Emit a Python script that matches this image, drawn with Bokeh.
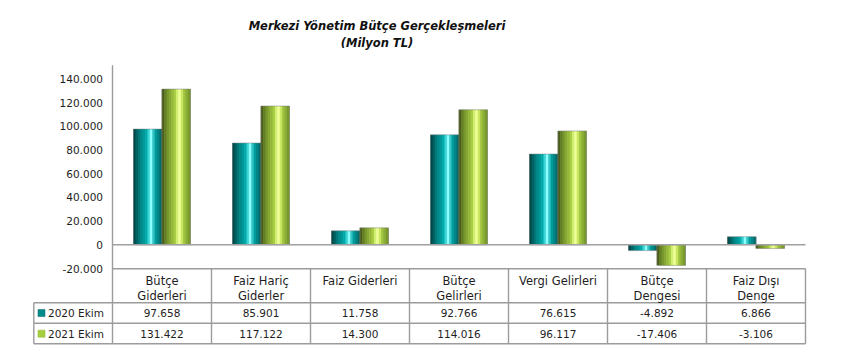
import numpy as np
from bokeh.plotting import figure
from bokeh.models import Range1d
from bokeh.core.properties import value
from bokeh.embed import file_html
from bokeh.resources import INLINE

# ---------------- data ----------------
title_lines = ["Merkezi Yönetim Bütçe Gerçekleşmeleri", "(Milyon TL)"]
categories = ["Bütçe\nGiderleri", "Faiz Hariç\nGiderler", "Faiz Giderleri",
              "Bütçe\nGelirleri", "Vergi Gelirleri", "Bütçe\nDengesi", "Faiz Dışı\nDenge"]
series_names = ["2020  Ekim", "2021  Ekim"]
v2020 = [97658, 85901, 11758, 92766, 76615, -4892, 6866]
v2021 = [131422, 117122, 14300, 114016, 96117, -17406, -3106]
y_ticks = [-20000, 0, 20000, 40000, 60000, 80000, 100000, 120000, 140000]
y_tick_labels = ["-20.000", "0", "20.000", "40.000", "60.000", "80.000",
                 "100.000", "120.000", "140.000"]
y_axis_top = 151500

# ---------------- style ----------------
FONT = value("DejaVu Sans")
TXT = "#1e1e1e"
GRID = "#9c9c9c"
teal_profile = ["#004a4a", "#006262", "#007878", "#008a8a", "#009999", "#00aaaa",
                "#3cd4d4", "#8cffff", "#34c6c6", "#009c9c", "#008686", "#006c6c"]
green_profile = ["#4a5e1a", "#647e26", "#78962e", "#88a834", "#96b83a", "#a8cc44",
                 "#d0ee70", "#f0ff9a", "#c8e660", "#a0c440", "#8cae36", "#789a2e"]
TEAL = "#008b8b"
GREEN = "#a6cf3e"

# pixel geometry (layout only)
PX_ZERO = 244.3
PX_PER = 23.7 / 20000.0
H = 353
W_TOTAL = 843
X0_PX = 112.0
UNIT = 99.0
def py(px):
    return (PX_ZERO - px) / PX_PER
def px_x(px):
    return (px - X0_PX) / UNIT

n = len(categories)
idx = np.arange(n) + 0.5
BW = 28.5 / UNIT

p = figure(width=W_TOTAL, height=H, output_backend="svg", toolbar_location=None,
           x_range=Range1d(px_x(32), n + 3 / UNIT),
           y_range=Range1d(py(H), py(0)),
           x_axis_location=None, y_axis_location=None,
           min_border_left=32, min_border_right=35,
           min_border_top=0, min_border_bottom=0)
p.outline_line_color = None
p.grid.visible = False
p.background_fill_color = "white"
p.border_fill_color = "white"

# value-axis tick labels
p.text(x=[px_x(102.5)] * len(y_ticks), y=y_ticks, text=y_tick_labels,
       text_align="right", text_baseline="middle", text_font=FONT,
       text_font_size="10.5px", text_color=TXT)

# bars as shaded cylinders (strips)
N = len(teal_profile)
sw = BW / N
for vals, prof, off in ((v2020, teal_profile, -BW), (v2021, green_profile, 0.0)):
    for k in range(N):
        xs = idx + off + (k + 0.5) * sw
        p.vbar(x=xs, width=sw * 1.25, top=vals, bottom=0,
               fill_color=prof[k], line_color=None)
    p.vbar(x=idx + off + BW / 2, width=BW, top=vals, bottom=0,
           fill_color=None, line_color="#7c7c7c", line_width=0.6, line_alpha=0.8)

# zero (category) axis line
p.segment(x0=[0], y0=[0], x1=[n], y1=[0], line_color="#a0a0a0", line_width=1.6)

# value axis line + table borders
ROW_TOP, ROW_H, ROW1, ROW2 = 268.3, 302.3, 322.7, 343.3
xl = px_x(33.3)
p.segment(x0=[0], y0=[y_axis_top], x1=[0], y1=[py(ROW2)], line_color=GRID, line_width=1.4)
p.segment(x0=[0, xl, xl, xl], y0=[py(ROW_TOP), py(ROW_H), py(ROW1), py(ROW2)],
          x1=[n] * 4, y1=[py(ROW_TOP), py(ROW_H), py(ROW1), py(ROW2)],
          line_color=GRID, line_width=1.4)
vx = list(range(1, n + 1))
p.segment(x0=vx, y0=[py(ROW_TOP)] * n, x1=vx, y1=[py(ROW2)] * n,
          line_color=GRID, line_width=1.4)
p.segment(x0=[xl], y0=[py(ROW_H)], x1=[xl], y1=[py(ROW2)], line_color=GRID, line_width=1.4)

# header labels
line1 = [c.split("\n")[0] for c in categories]
line2 = [c.split("\n")[1] if "\n" in c else "" for c in categories]
p.text(x=idx, y=[py(280.5)] * n, text=line1, text_align="center", text_baseline="middle",
       text_font=FONT, text_font_size="11.5px", text_color=TXT)
p.text(x=idx, y=[py(295)] * n, text=line2, text_align="center", text_baseline="middle",
       text_font=FONT, text_font_size="11.5px", text_color=TXT)

# data rows
fmt = lambda v: f"{v:,}".replace(",", ".")
ry = [py(312.6), py(333.2)]
for r, vals in enumerate((v2020, v2021)):
    p.text(x=idx, y=[ry[r]] * n, text=[fmt(v) for v in vals], text_align="center",
           text_baseline="middle", text_font=FONT, text_font_size="10.5px", text_color=TXT)

# legend keys
p.scatter(x=[px_x(41)] * 2, y=ry, marker="square", size=7,
          fill_color=[TEAL, GREEN], line_color=["#006060", "#8cb030"], line_width=0.5)
p.text(x=[px_x(47.5)] * 2, y=ry, text=series_names, text_align="left",
       text_baseline="middle", text_font=FONT, text_font_size="10.5px", text_color=TXT)

# title
tx = px_x(376.5)
p.text(x=[tx, tx], y=[py(25), py(42)], text=title_lines, text_align="center",
       text_baseline="middle", text_font=FONT, text_font_size="11.5px",
       text_font_style="bold italic", text_color="#111111")

open("out.html", "w").write(file_html(p, INLINE))
